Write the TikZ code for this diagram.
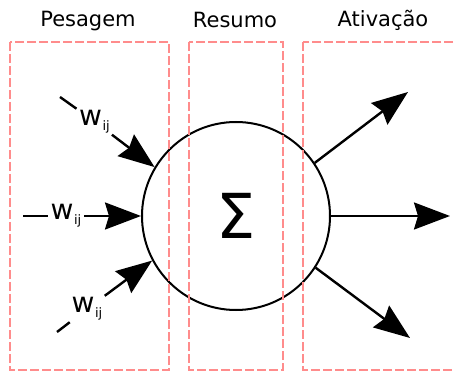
\documentclass[tikz,border=0pt]{standalone}
\usepackage{fontspec}
\setmainfont{DejaVu Sans}
\usetikzlibrary{arrows.meta}
\definecolor{stagered}{HTML}{FF8C8C}
% weight label: w with the subscript ij
\newcommand\weightlabel{{\fontsize{28}{28}\selectfont w}\kern0.5pt\raisebox{-5pt}{\fontsize{13}{13}\selectfont ij}}
\begin{document}
\begin{tikzpicture}[x=1pt,y=-1pt,
  stage/.style={draw=stagered, line width=1.4pt, dash pattern=on 9pt off 3pt},
  heading/.style={anchor=base, font=\fontsize{21}{25}\selectfont},
  weight/.style={inner xsep=2.5pt, inner ysep=1.5pt},
  link/.style={line width=2.4pt},
  arr/.style={link, -{Stealth[length=36pt,width=27pt,inset=4pt]}},
]
\useasboundingbox (0,0) rectangle (455,371);

% summing unit
\node[circle, draw, line width=2pt, minimum size=188pt, inner sep=0pt,
      font=\fontsize{62}{62}\selectfont] (sum) at (236,216) {Σ};

% stage frames
\begin{scope}
  \clip (0,0) rectangle (455,371);
  \draw[stage] (10,42) rectangle (169,370);
  \draw[stage] (189,42) rectangle (283,370);
  \draw[stage] (303,42) rectangle (470,370);
\end{scope}

% stage headings
\node[heading] (h1) at (88,27) {Pesagem};
\node[heading] (h2) at (235,28) {Resumo};
\node[heading] (h3) at (383,27) {Ativação};

% weighted inputs
\coordinate (in1) at (60,97);
\node[weight] (w1) at (94.5,121.5) {\weightlabel};
\coordinate (in2) at (23,216);
\node[weight] (w2) at (66,216) {\weightlabel};
\coordinate (in3) at (57,332);
\node[weight] (w3) at (87,309) {\weightlabel};

\draw[link] (in1) -- (w1);
\draw[arr] (w1) -- (sum.149);
\draw[link] (in2) -- (w2);
\draw[arr] (w2) -- (sum.west);
\draw[link] (in3) -- (w3);
\draw[arr] (w3) -- (sum.208);

% activation outputs
\coordinate (o1) at (408,92);
\coordinate (o2) at (450,216);
\coordinate (o3) at (410,338);
\draw[arr] (sum.34) -- (o1);
\draw[arr] (sum.east) -- (o2);
\draw[arr] (sum.-33) -- (o3);
\end{tikzpicture}
\end{document}
